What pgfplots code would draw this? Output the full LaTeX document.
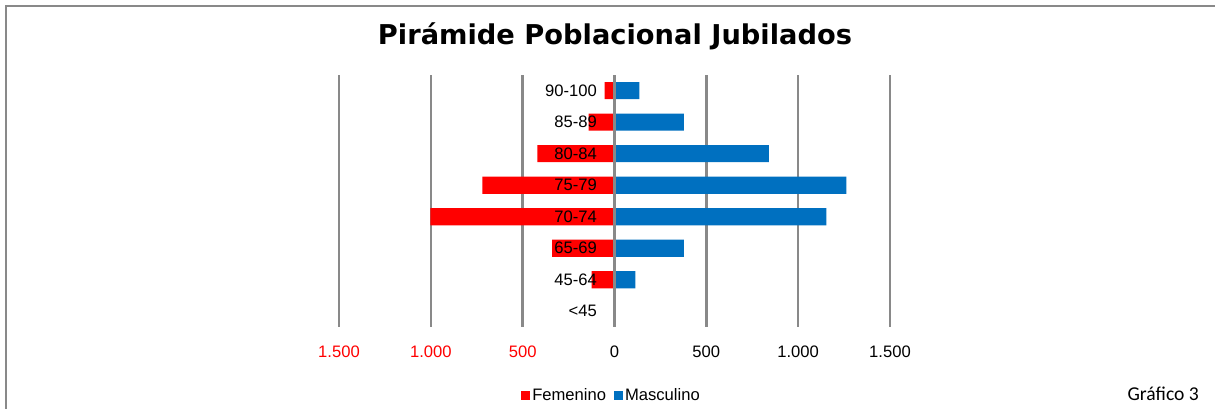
\documentclass[border=0pt]{standalone}
\usepackage{pgfplots}
\pgfplotsset{compat=1.18}
\usepackage{fontspec}
\setmainfont{Liberation Sans}
\newfontfamily\titlefont{DejaVu Sans}
\newfontfamily\calfont{Carlito}
\definecolor{fem}{HTML}{FF0000}
\definecolor{mas}{HTML}{0070C0}
\definecolor{gridg}{HTML}{898989}
\begin{document}
\begin{tikzpicture}
\useasboundingbox (0,0) rectangle (1215bp,409bp);
\fill[white] (0,0) rectangle (1215bp,409bp);
\draw[gridg, line width=2bp] (6bp,0) -- (6bp,403bp) -- (1215bp,403bp);
\node[anchor=base, inner sep=0] at (615bp,364bp) {\resizebox{474bp}{!}{\titlefont\bfseries Pirámide Poblacional Jubilados}};
\node[anchor=base east, inner sep=0] at (1199bp,9bp) {\calfont\fontsize{19.6bp}{22bp}\selectfont Gráfico 3};
\begin{axis}[
  at={(339bp,82bp)}, anchor=south west,
  width=551bp, height=252bp, scale only axis,
  xmin=-1500, xmax=1500, ymin=-0.5, ymax=7.5,
  axis line style={draw=none},
  major tick length=0pt,
  xmajorgrids, ymajorgrids=false,
  major grid style={gridg, line width=2.6bp},
  xtick={-1500,-1000,-500,0,500,1000,1500},
  xticklabels={\textcolor{fem}{\mbox{1.500}},\textcolor{fem}{\mbox{1.000}},\textcolor{fem}{\mbox{500}},\mbox{0},\mbox{500},\mbox{1.000},\mbox{1.500}},
  xticklabel style={anchor=center, yshift=-25bp, font=\fontsize{16.6bp}{19bp}\selectfont},
  ytick=\empty,
  clip=false,
  legend style={at={(0.4946,-0.27)}, anchor=center, draw=none, fill=none,
    font=\fontsize{16.6bp}{19bp}\selectfont, legend columns=2,
    /tikz/every even column/.append style={column sep=6bp},
    inner sep=0pt},
]
\addplot[xbar, bar width=17bp, bar shift=0pt, fill=fem, draw=none,
  legend image code/.code={\fill[fem] (0bp,-4.5bp) rectangle (9bp,4.5bp);}]
  coordinates {(0,0) (-125,1) (-339,2) (-1002,3) (-719,4) (-420,5) (-141,6) (-54,7)};
\addlegendentry{Femenino}
\addplot[xbar, bar width=17bp, bar shift=0pt, fill=mas, draw=none,
  legend image code/.code={\fill[mas] (0bp,-4.5bp) rectangle (9bp,4.5bp);}]
  coordinates {(0,0) (113,1) (377,2) (1153,3) (1262,4) (840,5) (377,6) (136,7)};
\addlegendentry{Masculino}
\draw[gridg, line width=2.6bp] (axis cs:0,-0.5) -- (axis cs:0,7.5);
\begin{scope}[every node/.style={anchor=east, inner sep=0, font=\fontsize{16.6bp}{19bp}\selectfont}]
\node at (axis cs:-95,7) {90-100};
\node at (axis cs:-95,6) {85-89};
\node at (axis cs:-95,5) {80-84};
\node at (axis cs:-95,4) {75-79};
\node at (axis cs:-95,3) {70-74};
\node at (axis cs:-95,2) {65-69};
\node at (axis cs:-95,1) {45-64};
\node at (axis cs:-95,0) {<45};
\end{scope}
\end{axis}
\end{tikzpicture}
\end{document}
